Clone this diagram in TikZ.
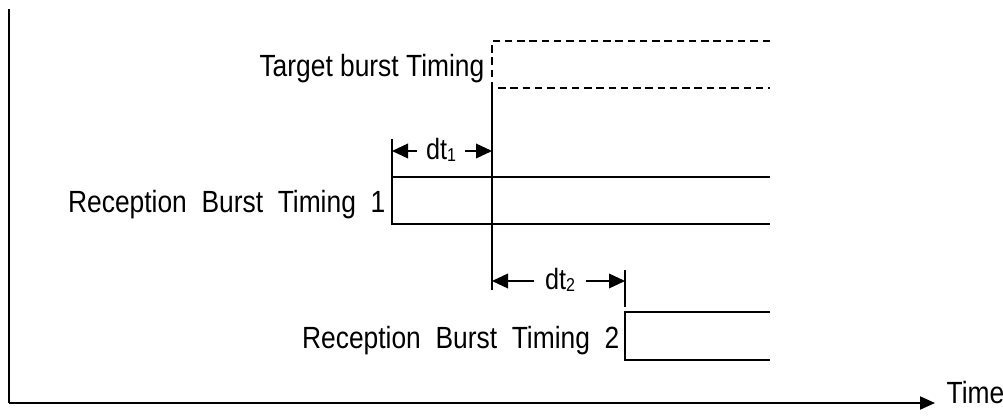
\documentclass[tikz,border=0pt]{standalone}
\usepackage{fontspec}
\setmainfont{Liberation Sans}[FakeStretch=0.86]
\usetikzlibrary{arrows.meta}
\begin{document}
\begin{tikzpicture}[x=0.75pt,y=-0.75pt,
  line width=1.1pt,
  axisline/.style={line width=1.5pt},
  axistip/.style={-{Triangle[length=11.25pt,width=9.75pt]}},
  dimarrow/.style={-{Triangle[length=12pt,width=11pt]}},
  dashline/.style={dash pattern=on 5.6pt off 3.6pt},
  lbl/.style={inner sep=0pt,font=\fontsize{23}{27}\selectfont},
  dimlbl/.style={inner xsep=6.5pt,inner ysep=0pt,font=\fontsize{22}{26}\selectfont},
]
\useasboundingbox (0,0) rectangle (1003,420);
\newcommand{\subnum}[1]{\raisebox{-1.5pt}{\fontsize{14}{15}\selectfont #1}}

% axes
\coordinate (ytop) at (9,9);
\coordinate (origin) at (9,403);
\coordinate (xend) at (935,403);
\draw[axisline] (ytop) -- (origin);
\draw[axisline,axistip] (origin) -- (xend);
\node[lbl,anchor=base west] (time) at (946,403) {Time};

% target burst
\coordinate (t1) at (492,41);
\coordinate (t2) at (770,41);
\coordinate (t3) at (492,88);
\coordinate (t4) at (770,88);
\draw[dashline] (t2) -- (t1) -- (t3) -- (t4);
\coordinate (tv) at (492,83);
\coordinate (tvb) at (492,290);
\draw (tv) -- (tvb);
\node[lbl,anchor=base east] (target) at (485,77) {Target burst Timing};

% reception burst 1
\coordinate (b1t) at (392,139);
\coordinate (b1a) at (392,177);
\coordinate (b1b) at (770,177);
\coordinate (b1c) at (392,224);
\coordinate (b1d) at (770,224);
\draw (b1t) -- (b1c) -- (b1d);
\draw (b1a) -- (b1b);
\node[lbl,anchor=base east] (rb1) at (386,213) {Reception\ \ Burst\ \ Timing\ \ 1};

% dt1
\coordinate (a1l) at (392,151);
\coordinate (a1r) at (492,151);
\node[dimlbl,anchor=base] (dt1) at (441,160) {dt\subnum{1}};
\draw[dimarrow] (dt1.west |- a1l) -- (a1l);
\draw[dimarrow] (dt1.east |- a1r) -- (a1r);

% dt2
\coordinate (a2l) at (492,281);
\coordinate (a2r) at (625,281);
\coordinate (b2t) at (625,270);
\coordinate (b2tb) at (625,307);
\draw (b2t) -- (b2tb);
\node[dimlbl,inner xsep=8pt,anchor=base] (dt2) at (560,290) {dt\subnum{2}};
\draw[dimarrow] (dt2.west |- a2l) -- (a2l);
\draw[dimarrow] (dt2.east |- a2r) -- (a2r);

% reception burst 2
\coordinate (b2a) at (770,312);
\coordinate (b2b) at (625,312);
\coordinate (b2c) at (625,360);
\coordinate (b2d) at (770,360);
\draw (b2a) -- (b2b) -- (b2c) -- (b2d);
\node[lbl,anchor=base east] (rb2) at (620,349) {Reception\ \ Burst\ \ Timing\ \ 2};
\end{tikzpicture}
\end{document}
